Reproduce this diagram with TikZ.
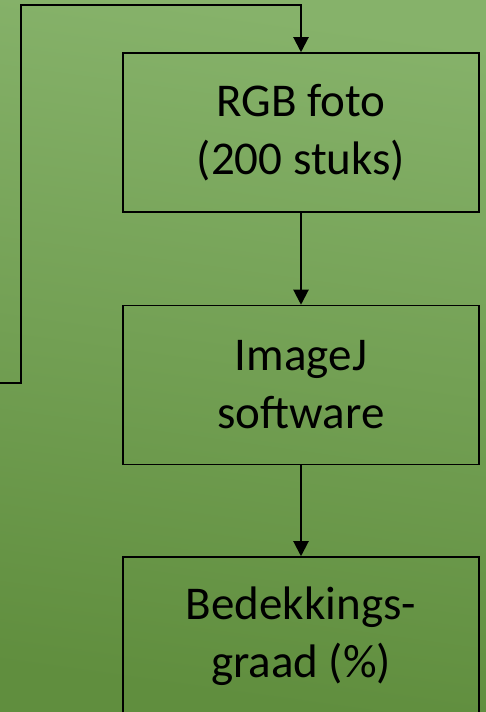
\documentclass[tikz,border=0pt]{standalone}
\usepackage{fontspec}
\setmainfont{Carlito}
\usetikzlibrary{positioning,arrows.meta}
\definecolor{bgtop}{RGB}{134,178,106}
\definecolor{bgbottom}{RGB}{96,142,62}
\begin{document}
\begin{tikzpicture}[x=1pt, y=1pt, node distance=92pt,
   box_style/.style={rectangle, draw=black, line width=1.5pt, minimum width=356pt,
      minimum height=159pt, align=center, font=\fontsize{47}{58}\selectfont},
   edge_style/.style={draw=black, line width=2pt, -{Triangle[width=15pt,length=15pt]}}]
	  \useasboundingbox (0,0) rectangle (486,712);
	  \clip (0,0) rectangle (486,712);
	  \shade[top color=bgtop, bottom color=bgbottom, shading angle=-8] (0,0) rectangle (486,712);

	  \node [box_style] (foto) at (301,579.5) {RGB foto\\(200 stuks)};
	  \node [box_style, below=of foto] (imagej) {ImageJ\\software};
	  \node [box_style, below=91pt of imagej] (bedekking) {Bedekkings-\\graad (\%)};

	  \coordinate (loopin) at (-2,329);
	  \coordinate (looptop) at (21,707);

	  \draw [edge_style] (loopin) -| (looptop) -| (foto.north);
	  \foreach \from/\to in {foto/imagej, imagej/bedekking}
	    \draw [edge_style] (\from) -- (\to);

	\end{tikzpicture}
\end{document}
